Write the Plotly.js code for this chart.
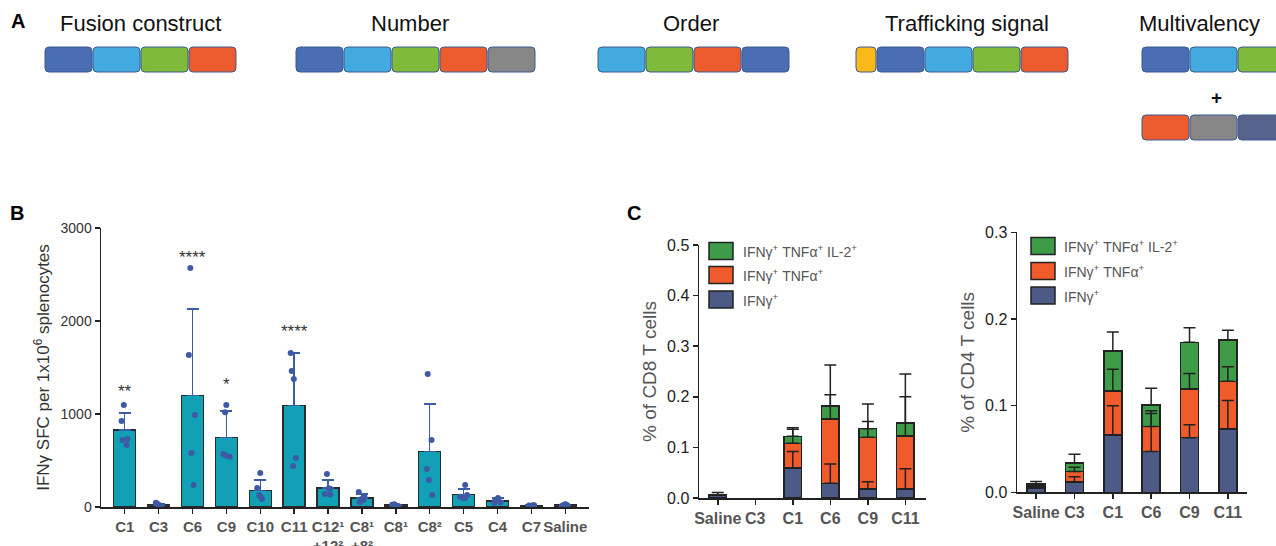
<!DOCTYPE html>
<html><head><meta charset="utf-8">
<script src="https://cdn.plot.ly/plotly-3.0.1.min.js"></script>
<style>body{margin:0;background:#fff}#chart{width:1276px;height:546px}</style>
</head><body><div id="chart"></div>
<script>
// ---------- Panel B data ----------
const sfcCategories = ['C1','C3','C6','C9','C10','C11','C12¹<br>+12²','C8¹<br>+8²','C8¹','C8²','C5','C4','C7','Saline'];
const sfcMean = [828, 22, 1200, 750, 180, 1090, 205, 97, 20, 595, 134, 65, 15, 20];
const sfcSD   = [182, 10, 930, 282, 110, 566, 85, 43, 8, 513, 60, 32, 5, 8];
const sfcRep1 = [1097, 45, 2570, 1097, 366, 1656, 355, 161, 30, 1430, 237, 97, 20, 30];
const sfcRep2 = [925, 35, 1634, 1020, 204, 1462, 200, 108, 25, 720, 130, 70, 18, 25];
const sfcRep3 = [731, 20, 990, 570, 129, 1376, 195, 86, 20, 409, 110, 60, 15, 20];
const sfcRep4 = [720, 12, 580, 555, 108, 527, 140, 75, 15, 290, 100, 50, 12, 15];
const sfcRep5 = [667, 5, 237, 540, 86, 441, 135, 54, 10, 129, 95, 45, 10, 10];
const sigCats = ['C1','C6','C9','C11'];
const sigText = ['**','****','*','****'];
const sigY    = [1290, 2731, 1355, 1925];

// ---------- Panel C data ----------
const cCats = ['Saline','C3','C1','C6','C9','C11'];
const cLegend = ['IFNγ<sup>+</sup> TNFα<sup>+</sup> IL-2<sup>+</sup>','IFNγ<sup>+</sup> TNFα<sup>+</sup>','IFNγ<sup>+</sup>'];
const cd8Ifn       = [0.006, 0, 0.059, 0.029, 0.018, 0.018];
const cd8IfnTnf    = [0,     0, 0.049, 0.127, 0.102, 0.105];
const cd8Triple    = [0,     0, 0.014, 0.026, 0.017, 0.025];
const cd8IfnSD     = [0.005, 0, 0.033, 0.038, 0.014, 0.040];
const cd8IfnTnfSD  = [0,     0, 0.028, 0.048, 0.031, 0.077];
const cd8TripleSD  = [0,     0, 0.017, 0.081, 0.049, 0.097];
const cd4Ifn       = [0.005, 0.012, 0.066, 0.047, 0.063, 0.073];
const cd4IfnTnf    = [0.002, 0.012, 0.051, 0.029, 0.056, 0.055];
const cd4Triple    = [0.0026,0.010, 0.046, 0.025, 0.054, 0.048];
const cd4IfnSD     = [0.002, 0.006, 0.034, 0.047, 0.015, 0.033];
const cd4IfnTnfSD  = [0,     0.005, 0.025, 0.015, 0.018, 0.017];
const cd4TripleSD  = [0.003, 0.010, 0.022, 0.019, 0.017, 0.011];

// ---------- Panel A (diagram) ----------
const diagTitles = ['Fusion construct','Number','Order','Trafficking signal','Multivalency'];

const W = 1276, H = 546;
const FONT = 'Liberation Sans, Arial, sans-serif';
const px = v => v / W, py = v => 1 - v / H;
const COL = {db:'#4a6db3', lb:'#42aade', gr:'#7fba3b', or:'#ec5b2d', gy:'#878787', ye:'#fbb917', sl:'#56628a'};

function rr(x0, y0, x1, y1, r, fill) {
  const P = (a, b) => px(a) + ',' + py(b);
  const path = 'M' + P(x0 + r, y0) + ' L' + P(x1 - r, y0) + ' Q' + P(x1, y0) + ' ' + P(x1, y0 + r) +
    ' L' + P(x1, y1 - r) + ' Q' + P(x1, y1) + ' ' + P(x1 - r, y1) + ' L' + P(x0 + r, y1) +
    ' Q' + P(x0, y1) + ' ' + P(x0, y1 - r) + ' L' + P(x0, y0 + r) + ' Q' + P(x0, y0) + ' ' + P(x0 + r, y0) + ' Z';
  return {type:'path', xref:'paper', yref:'paper', path, fillcolor: fill, line:{color:'#3b5a94', width:1}, layer:'above'};
}
const shapes = [];
function row(x, y, list) {
  list.forEach(k => {
    const w = (k === 'ye') ? 20 : 47;
    shapes.push(rr(x, y, x + w, y + 25, 4, COL[k]));
    x += w + 1;
  });
}
row(45, 47, ['db','lb','gr','or']);
row(296, 47, ['db','lb','gr','or','gy']);
row(598, 47, ['lb','gr','or','db']);
row(856, 47, ['ye','db','lb','gr','or']);
row(1142, 47, ['db','lb','gr']);
row(1142, 115, ['or','gy','sl']);

const annotations = [];
const titleX = [140, 410, 691, 967, 1199];
diagTitles.forEach((t, i) => annotations.push({xref:'paper', yref:'paper', x:px(titleX[i]), y:py(24), text:t,
  showarrow:false, xanchor:'center', yanchor:'middle', font:{family:FONT, size:22, color:'#111'}}));
annotations.push({xref:'paper', yref:'paper', x:px(1216), y:py(97), text:'<b>+</b>', showarrow:false,
  xanchor:'center', yanchor:'middle', font:{family:FONT, size:19, color:'#111'}});
[['A', 18, 21], ['B', 17, 213], ['C', 634, 213]].forEach(([t, x, y]) => annotations.push({xref:'paper', yref:'paper',
  x:px(x), y:py(y), text:'<b>' + t + '</b>', showarrow:false, xanchor:'center', yanchor:'middle',
  font:{family:FONT, size:20, color:'#000'}}));

// significance stars
sigCats.forEach((c, i) => annotations.push({xref:'x', yref:'y', x:c, y:sigY[i], text:sigText[i], showarrow:false,
  yanchor:'middle', yshift:-4, font:{family:FONT, size:17, color:'#333'}}));

// legends for panel C (drawn boxes)
const legCols = ['#3e9b47', '#ef5b2b', '#4d5a85'];
function legend(bx, centers, tx) {
  centers.forEach((cy, i) => {
    shapes.push({type:'rect', xref:'paper', yref:'paper', x0:px(bx), x1:px(bx + 24), y0:py(cy - 8.5), y1:py(cy + 8.5),
      fillcolor: legCols[i], line:{color:'#222', width:1.5}});
    annotations.push({xref:'paper', yref:'paper', x:px(tx), y:py(cy), text:cLegend[i], showarrow:false,
      xanchor:'left', yanchor:'middle', font:{family:FONT, size:14, color:'#555'}});
  });
}
legend(709, [251, 275, 299.5], 741);
legend(1031, [246, 271, 295.5], 1062);

// ---------- traces ----------
const traces = [];
traces.push({type:'bar', x:sfcCategories, y:sfcMean, xaxis:'x', yaxis:'y', width:0.65,
  marker:{color:'#12a0b6', line:{color:'#2b2b2b', width:1.5}},
  error_y:{type:'data', array:sfcSD, symmetric:false, arrayminus:sfcSD.map(() => 0), color:'#3b5ca6', thickness:1.5, width:6},
  hoverinfo:'skip'});
const repX = [], repY = [];
[sfcRep1, sfcRep2, sfcRep3, sfcRep4, sfcRep5].forEach(r => r.forEach((v, i) => { repX.push(sfcCategories[i]); repY.push(v); }));
traces.push({type:'box', x:repX, y:repY, xaxis:'x', yaxis:'y', boxpoints:'all', jitter:0.45, pointpos:0,
  marker:{color:'#3e5aa4', size:6}, line:{width:0}, fillcolor:'rgba(0,0,0,0)', hoverinfo:'skip'});

function stacked(xa, ya, segs, sds) {
  const cols = ['#4d5a85', '#ef5b2b', '#3e9b47'];
  const cum = cCats.map(() => 0);
  segs.forEach((s, k) => {
    traces.push({type:'bar', x:cCats, y:s.map(v => v > 0 ? v : null), xaxis:xa, yaxis:ya, width:0.47,
      marker:{color:cols[k], line:{color:'#222', width:1.5}}, hoverinfo:'skip'});
  });
  segs.forEach((s, k) => {
    const tops = s.map((v, i) => { cum[i] += v; return v > 0 ? cum[i] : null; });
    traces.push({type:'scatter', mode:'markers', x:cCats, y:tops, xaxis:xa, yaxis:ya,
      marker:{size:1, opacity:0}, hoverinfo:'skip',
      error_y:{type:'data', array:sds[k], symmetric:false, arrayminus:sds[k].map(() => 0), color:'#222', thickness:1.5, width:6}});
  });
}
stacked('x2', 'y2', [cd8Ifn, cd8IfnTnf, cd8Triple], [cd8IfnSD, cd8IfnTnfSD, cd8TripleSD]);
stacked('x3', 'y3', [cd4Ifn, cd4IfnTnf, cd4Triple], [cd4IfnSD, cd4IfnTnfSD, cd4TripleSD]);

const axLine = {showline:true, linecolor:'#222', linewidth:1.5, ticks:'outside', ticklen:5, tickwidth:1.5, tickcolor:'#222',
  showgrid:false, zeroline:false, fixedrange:true};
const xTickFont = {family:FONT, size:15, color:'#555', weight:'bold'};

const layout = {
  width:W, height:H, margin:{l:0, r:0, t:0, b:0}, paper_bgcolor:'#fff', plot_bgcolor:'rgba(0,0,0,0)',
  showlegend:false, barmode:'stack', font:{family:FONT},
  xaxis:Object.assign({}, axLine, {domain:[px(101), px(589)], anchor:'y', type:'category', categoryarray:sfcCategories,
    categoryorder:'array', range:[-0.7, 13.7], tickfont:xTickFont}),
  yaxis:Object.assign({}, axLine, {domain:[py(507), py(228)], anchor:'x', range:[0, 3000], tickvals:[0, 1000, 2000, 3000],
    tickfont:{family:FONT, size:14, color:'#333'},
    title:{text:'IFNγ SFC per 1x10<sup>6</sup> splenocytes', font:{family:FONT, size:17, color:'#333'}, standoff:6}}),
  xaxis2:Object.assign({}, axLine, {domain:[px(699), px(926)], anchor:'y2', type:'category', categoryarray:cCats,
    categoryorder:'array', range:[-0.5, 5.55], tickfont:Object.assign({}, xTickFont, {size:16})}),
  yaxis2:Object.assign({}, axLine, {domain:[py(498), py(245)], anchor:'x2', range:[0, 0.5], dtick:0.1, tickformat:'.1f',
    tickfont:{family:FONT, size:16, color:'#222'},
    title:{text:'% of CD8 T cells', font:{family:FONT, size:19, color:'#555'}, standoff:5}}),
  xaxis3:Object.assign({}, axLine, {domain:[px(1017), px(1247)], anchor:'y3', type:'category', categoryarray:cCats,
    categoryorder:'array', range:[-0.5, 5.5], tickfont:Object.assign({}, xTickFont, {size:16})}),
  yaxis3:Object.assign({}, axLine, {domain:[py(492.3), py(232.3)], anchor:'x3', range:[0, 0.3], dtick:0.1, tickformat:'.1f',
    tickfont:{family:FONT, size:16, color:'#222'},
    title:{text:'% of CD4 T cells', font:{family:FONT, size:19, color:'#555'}, standoff:5}}),
  shapes, annotations
};
Plotly.newPlot('chart', traces, layout, {displayModeBar:false, staticPlot:true});
</script></body></html>
